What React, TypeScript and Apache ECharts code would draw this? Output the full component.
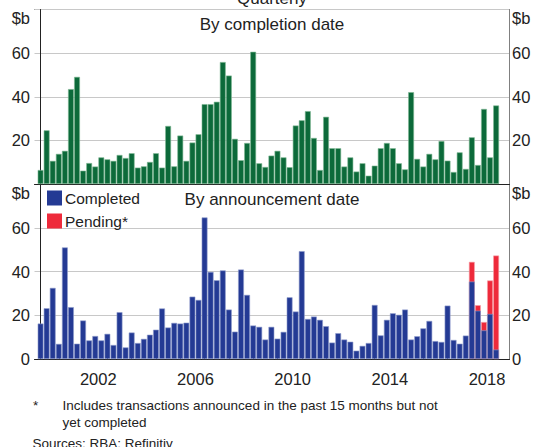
import React, { useEffect, useRef } from 'react';
import * as echarts from 'echarts';

// Quarterly categories 2000-Q1 .. 2018-Q4
const firstYear = 2000;
const lastYear = 2018;
const quarters: string[] = [];
for (let y = firstYear; y <= lastYear; y++) {
  for (let q = 1; q <= 4; q++) quarters.push(`${y}-Q${q}`);
}

// $b, by completion date
const byCompletion = [
  6.4, 24.6, 10.6, 13.8, 15.2, 43.5, 49.1, 6.1, 9.6, 8.0,
  12.2, 11.3, 10.6, 13.3, 11.9, 14.1, 7.5, 8.1, 10.1, 14.1,
  7.5, 26.6, 8.1, 22.2, 10.6, 19.0, 22.8, 36.6, 36.6, 37.7,
  55.9, 49.7, 20.7, 10.9, 18.8, 60.6, 9.5, 7.8, 13.0, 15.2,
  12.2, 7.7, 26.8, 29.2, 33.4, 21.1, 6.4, 30.8, 16.4, 16.4,
  8.0, 12.2, 5.7, 9.5, 3.8, 8.4, 16.4, 18.8, 16.4, 9.5,
  6.7, 42.1, 11.5, 8.0, 13.8, 11.3, 19.7, 10.7, 5.5, 14.5,
  6.9, 21.4, 8.7, 34.4, 12.2, 36.0,
];

// $b, by announcement date – completed
const completed = [
  16.2, 23.2, 32.5, 6.9, 51.0, 23.7, 7.0, 17.6, 8.5, 10.5,
  8.5, 11.5, 6.4, 21.4, 5.3, 12.1, 7.3, 9.2, 11.1, 13.4,
  23.1, 14.4, 16.5, 16.2, 16.6, 28.5, 27.0, 64.7, 39.8, 36.0,
  40.5, 22.6, 12.5, 40.9, 29.3, 15.3, 14.7, 8.9, 14.7, 9.3,
  12.4, 28.2, 21.7, 49.3, 18.3, 19.4, 17.9, 15.0, 7.5, 11.8,
  8.9, 7.9, 3.8, 6.0, 7.3, 24.7, 10.8, 17.9, 20.9, 20.2,
  22.6, 8.9, 10.4, 14.0, 17.4, 8.2, 7.8, 24.4, 8.7, 7.0,
  10.7, 35.4, 22.1, 13.1, 20.6, 4.3,
];

// $b, by announcement date – pending
const pending = [
  0, 0, 0, 0, 0, 0, 0, 0, 0, 0,
  0, 0, 0, 0, 0, 0, 0, 0, 0, 0,
  0, 0, 0, 0, 0, 0, 0, 0, 0, 0,
  0, 0, 0, 0, 0, 0, 0, 0, 0, 0,
  0, 0, 0, 0, 0, 0, 0, 0, 0, 0,
  0, 0, 0, 0, 0, 0, 0, 0, 0, 0,
  0, 0, 0, 0, 0, 0, 0, 0, 0, 0,
  0, 9.0, 2.5, 3.8, 15.3, 43.0,
];

const yearLabels = ['2002', '2006', '2010', '2014', '2018'];

const FONT = '"Liberation Sans", Arial, sans-serif';
const TXT = '#222';
const GREEN = '#0c6a3a';
const GREEN_EDGE = '#7fb894';
const BLUE = '#243a94';
const BLUE_EDGE = '#8f9ccc';
const RED = '#ee2a3b';
const RED_EDGE = '#f7a0a8';

export default function App() {
  const ref = useRef<HTMLDivElement>(null);

  useEffect(() => {
    if (!ref.current) return;
    const chart = echarts.init(ref.current, undefined, { renderer: 'svg' });

    const tickPos = quarters
      .map((q, i) => (q.endsWith('Q4') ? i : -1))
      .filter((i) => i >= 0);
    const labelPos = yearLabels.map((y) => quarters.indexOf(`${y}-Q2`) + 0.5);
    const labelMap: Record<string, string> = {};
    labelPos.forEach((p, k) => (labelMap[String(p)] = yearLabels[k]));

    const gridL = 34.5;
    const gridR = 32.5;
    const xMin = -1;
    const xMax = quarters.length + 1.2;
    const BW = 5.8;

    const yLabel = (hideZero: boolean) => ({
      fontSize: 16.5,
      color: TXT,
      fontFamily: FONT,
      formatter: (v: number) => (v === 80 || (hideZero && v === 0) ? '' : String(v)),
    });

    const baseY = {
      type: 'value' as const,
      min: 0,
      max: 80,
      interval: 20,
      axisTick: { show: false },
    };

    const text = (t: string, x: number, y: number, align: string, size: number) => ({
      type: 'text',
      x,
      y,
      silent: true,
      style: {
        text: t,
        fill: TXT,
        font: `${size}px ${FONT}`,
        textAlign: align,
        textVerticalAlign: 'middle',
      },
    });

    chart.setOption({
      animation: false,
      textStyle: { fontFamily: FONT },
      grid: [
        { left: gridL, right: gridR, top: 9.5, height: 174.5 },
        { left: gridL, right: gridR, top: 184, height: 175 },
      ],
      xAxis: [
        {
          type: 'value',
          gridIndex: 0,
          min: xMin,
          max: xMax,
          axisLine: { show: true, onZero: false, lineStyle: { color: '#222', width: 1 } },
          axisTick: { show: false },
          axisLabel: { show: false },
          splitLine: { show: false },
        },
        {
          type: 'value',
          gridIndex: 1,
          min: xMin,
          max: xMax,
          axisLine: { show: true, onZero: false, lineStyle: { color: '#222', width: 1 } },
          axisTick: {
            show: true,
            inside: true,
            length: 6,
            customValues: tickPos,
            lineStyle: { color: '#222', width: 1 },
          },
          axisLabel: {
            show: true,
            customValues: labelPos,
            margin: 11,
            fontSize: 16.5,
            color: TXT,
            fontFamily: FONT,
            formatter: (v: number) => labelMap[String(v)] ?? '',
          },
          splitLine: { show: false },
        },
      ],
      yAxis: [
        {
          ...baseY,
          gridIndex: 0,
          position: 'left',
          axisLine: { show: true, lineStyle: { color: '#222' } },
          axisLabel: { ...yLabel(true), margin: 4.5 },
          splitLine: { show: true, lineStyle: { color: '#c8c8c8', width: 1 } },
        },
        {
          ...baseY,
          gridIndex: 0,
          position: 'right',
          axisLine: { show: true, lineStyle: { color: '#808080' } },
          axisLabel: { ...yLabel(true), margin: 2.5 },
          splitLine: { show: false },
        },
        {
          ...baseY,
          gridIndex: 1,
          position: 'left',
          axisLine: { show: true, lineStyle: { color: '#222' } },
          axisLabel: { ...yLabel(false), margin: 4.5 },
          splitLine: { show: true, lineStyle: { color: '#c8c8c8', width: 1 } },
        },
        {
          ...baseY,
          gridIndex: 1,
          position: 'right',
          axisLine: { show: true, lineStyle: { color: '#808080' } },
          axisLabel: { ...yLabel(false), margin: 2.5 },
          splitLine: { show: false },
        },
      ],
      legend: {
        data: [
          { name: 'Completed', itemStyle: { color: BLUE, borderWidth: 0 } },
          { name: 'Pending*', itemStyle: { color: RED, borderWidth: 0 } },
        ],
        orient: 'vertical',
        left: 47,
        top: 190,
        padding: 0,
        itemWidth: 15,
        itemHeight: 15,
        itemGap: 7,
        icon: 'rect',
        selectedMode: false,
        textStyle: { fontSize: 15.5, color: TXT, fontFamily: FONT, padding: [0, 0, 0, -2] },
      },
      series: [
        {
          name: 'By completion date',
          type: 'bar',
          xAxisIndex: 0,
          yAxisIndex: 0,
          barWidth: BW,
          itemStyle: { color: GREEN, borderColor: GREEN_EDGE, borderWidth: 0.6 },
          data: byCompletion.map((v, i) => [i, v]),
        },
        {
          // pending stacked on top of completed: bar drawn to the total, behind completed
          name: 'Pending*',
          type: 'bar',
          xAxisIndex: 1,
          yAxisIndex: 2,
          barWidth: BW,
          barGap: '-100%',
          z: 2,
          itemStyle: { color: RED, borderColor: RED_EDGE, borderWidth: 0.6 },
          data: pending
            .map((v, i) => [i, v > 0 ? completed[i] + v : 0])
            .filter((d) => d[1] > 0),
        },
        {
          name: 'Completed',
          type: 'bar',
          xAxisIndex: 1,
          yAxisIndex: 2,
          barWidth: BW,
          barGap: '-100%',
          z: 3,
          itemStyle: { color: BLUE, borderColor: BLUE_EDGE, borderWidth: 0.6 },
          data: completed.map((v, i) => [i, v]),
        },
      ],
      graphic: [
        {
          type: 'line',
          silent: true,
          shape: { x1: gridL, y1: 9.5, x2: 542 - gridR, y2: 9.5 },
          style: { stroke: '#222', lineWidth: 1 },
        },
        text('Quarterly', 272, -2, 'center', 17),
        text('By completion date', 272, 24.5, 'center', 17),
        text('By announcement date', 272, 199, 'center', 17),
        text('$b', 30, 18, 'right', 16.5),
        text('$b', 512, 18, 'left', 16.5),
        text('$b', 30, 193, 'right', 16.5),
        text('$b', 512, 193, 'left', 16.5),
        text('*', 33, 405.5, 'left', 13.5),
        text('Includes transactions announced in the past 15 months but not', 62.5, 405.5, 'left', 13.5),
        text('yet completed', 62.5, 422.5, 'left', 13.5),
        text('Sources: RBA; Refinitiv', 32.5, 443.5, 'left', 13.5),
      ],
    });

    return () => chart.dispose();
  }, []);

  return (
    <div
      ref={ref}
      style={{ position: 'absolute', left: 0, top: 0, width: 542, height: 447, background: '#fff' }}
    />
  );
}
